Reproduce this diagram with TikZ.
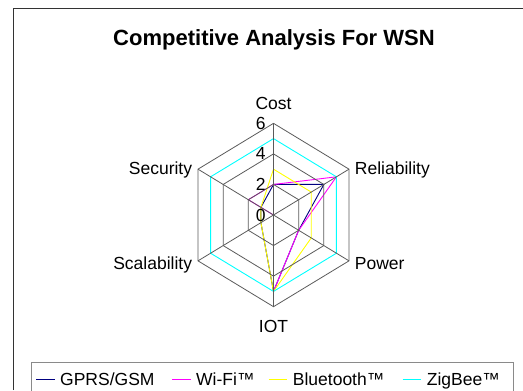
\documentclass[tikz,border=0pt]{standalone}
\usepackage{fontspec}
\setmainfont{Liberation Sans}
\usetikzlibrary{positioning, calc}
\definecolor{gridgrey}{HTML}{5A5A5A}
\definecolor{framegrey}{HTML}{333333}
\definecolor{boxgrey}{HTML}{8A8A8A}
\definecolor{gprsnavy}{HTML}{000080}
\definecolor{wifipink}{HTML}{FF00FF}
\definecolor{btyellow}{HTML}{FFFF00}
\definecolor{zigcyan}{HTML}{00FFFF}
\tikzset{
  gridline/.style={gridgrey, line width=0.8bp},
  series/.style={line width=0.9bp},
  axislabel/.style={inner sep=0pt, font=\fontsize{17.5bp}{20bp}\selectfont},
  ticklabel/.style={inner sep=0pt, anchor=east, font=\fontsize{17.5bp}{20bp}\selectfont},
  legendlabel/.style={inner sep=0pt, anchor=base west, font=\fontsize{17.5bp}{20bp}\selectfont},
}
\newcommand{\webline}[7]{%
  \draw[series, #1] (90:#2) -- (30:#3) -- (-30:#4) -- (-90:#5)
    -- (210:#6) -- (150:#7) -- cycle;}

\begin{document}
\begin{tikzpicture}[x=1bp, y=-1bp]
  \useasboundingbox (0,0) rectangle (523,390);
  \draw[framegrey, line width=1bp] (13.3,390) -- (13.3,8.3) -- (523,8.3);
  \node (title) [anchor=base, inner sep=0pt,
    font=\fontsize{22bp}{26bp}\selectfont\bfseries] at (274,45.7)
    {Competitive Analysis For WSN};
  \begin{scope}[shift={(273.5,215)}, x=14.53bp, y=15.28bp]
    \coordinate (o) at (0,0);
    \webline{gprsnavy}{2}{4}{2}{5}{1}{1}
    \webline{wifipink}{2}{5}{2}{5}{0}{2}
    \webline{btyellow}{3}{3}{3}{5}{1}{1}
    \webline{zigcyan}{5}{5}{5}{5}{5}{5}
    \foreach \r in {2,4,6}
      \draw[gridline] (90:\r) -- (30:\r) -- (-30:\r) -- (-90:\r)
        -- (210:\r) -- (150:\r) -- cycle;
    \foreach \a [count=\i] in {90,30,-30,-90,210,150}{%
      \coordinate (ax\i) at (\a:6);
      \draw[gridline] (o) -- (ax\i);}
    \foreach \v in {0,2,4,6}
      \node (tick\v) [ticklabel] at ([xshift=-7.6bp]0,\v) {\v};
  \end{scope}
  \node (cost) [axislabel, anchor=base] at ([yshift=14bp]ax1) {Cost};
  \node (rel) [axislabel, anchor=base west] at ([xshift=5.7bp, yshift=-5bp]ax2) {Reliability};
  \node (pow) [axislabel, anchor=base west] at ([xshift=5.7bp, yshift=-8.6bp]ax3) {Power};
  \node (iot) [axislabel, anchor=base] at ([yshift=-26bp]ax4) {IOT};
  \node (scal) [axislabel, anchor=base east] at ([xshift=-5.7bp, yshift=-8.6bp]ax5) {Scalability};
  \node (sec) [axislabel, anchor=base east] at ([xshift=-5.7bp, yshift=-5bp]ax6) {Security};
  \draw[boxgrey, line width=1bp] (31.7,391) -- (31.7,362.7) -- (513.3,362.7) -- (513.3,391);
  \foreach \lab/\col/\xx [count=\i] in {{GPRS/GSM}/gprsnavy/60,
      {Wi-Fi™}/wifipink/196, {Bluetooth™}/btyellow/292.7, {ZigBee™}/zigcyan/426.7}{%
    \node (leg\i) [legendlabel] at (\xx,385) {\lab};
    \draw[series, \col] ([xshift=-24bp, yshift=6bp]leg\i.base west)
      -- ([xshift=-5.5bp, yshift=6bp]leg\i.base west);}
\end{tikzpicture}
\end{document}
